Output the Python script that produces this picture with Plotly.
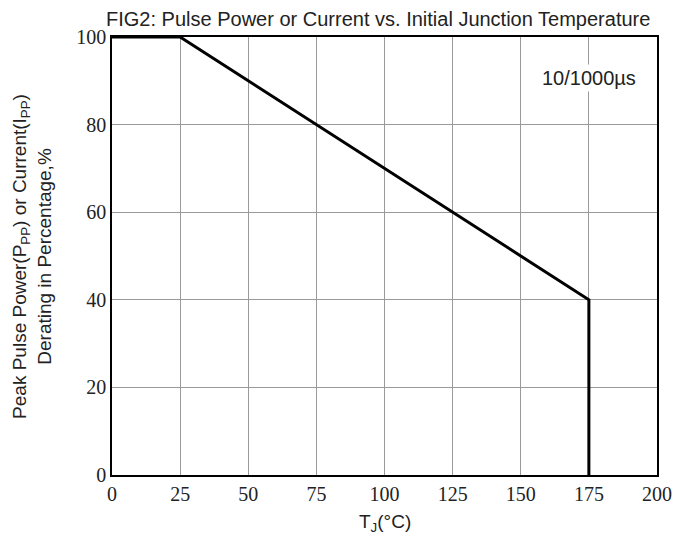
import plotly.graph_objects as go

temp_c = [0, 25, 175, 175]
derating_pct = [100, 100, 40, 0]
x_ticks = [0, 25, 50, 75, 100, 125, 150, 175, 200]
y_ticks = [0, 20, 40, 60, 80, 100]

SANS = "Liberation Sans, Arial"
SERIF = "Liberation Serif, Times New Roman"

fig = go.Figure()
fig.add_trace(go.Scatter(x=temp_c, y=derating_pct, mode="lines",
                         line=dict(color="black", width=3), showlegend=False))

fig.add_annotation(x=175, y=90.6, text="10/1000µs", showarrow=False,
                   font=dict(family=SANS, size=20, color="#222"),
                   bgcolor="white", borderpad=2)

axis_common = dict(showgrid=True, gridcolor="#999999", gridwidth=1,
                   showline=True, linecolor="black", linewidth=1.5, mirror=True,
                   zeroline=False, ticks="", automargin=False,
                   tickfont=dict(family=SERIF, size=20, color="#222"))

fig.update_xaxes(range=[0, 200], tickvals=x_ticks, **axis_common)
fig.update_yaxes(range=[0, 100], tickvals=y_ticks, **axis_common)

fig.add_annotation(xref="paper", yref="paper", x=0.5, y=-0.11, yanchor="middle",
                   text="T<sub>J</sub>(°C)", showarrow=False,
                   font=dict(family=SANS, size=19, color="#222"))
fig.add_annotation(xref="paper", yref="paper", x=-0.147, y=0.5, xanchor="center",
                   textangle=-90,
                   text="Peak Pulse Power(P<sub>PP</sub>) or Current(I<sub>PP</sub>)<br>Derating in Percentage,%",
                   showarrow=False,
                   font=dict(family=SANS, size=19, color="#222"))

fig.update_layout(
    width=678, height=534,
    margin=dict(l=104, r=29, t=29, b=67),
    paper_bgcolor="white", plot_bgcolor="white",
    title=dict(text="FIG2: Pulse Power or Current vs. Initial Junction Temperature",
               x=0.546, xanchor="center", y=0.9785, yanchor="middle",
               font=dict(family=SANS, size=20, color="#222")),
)

fig.write_html("out.html")
